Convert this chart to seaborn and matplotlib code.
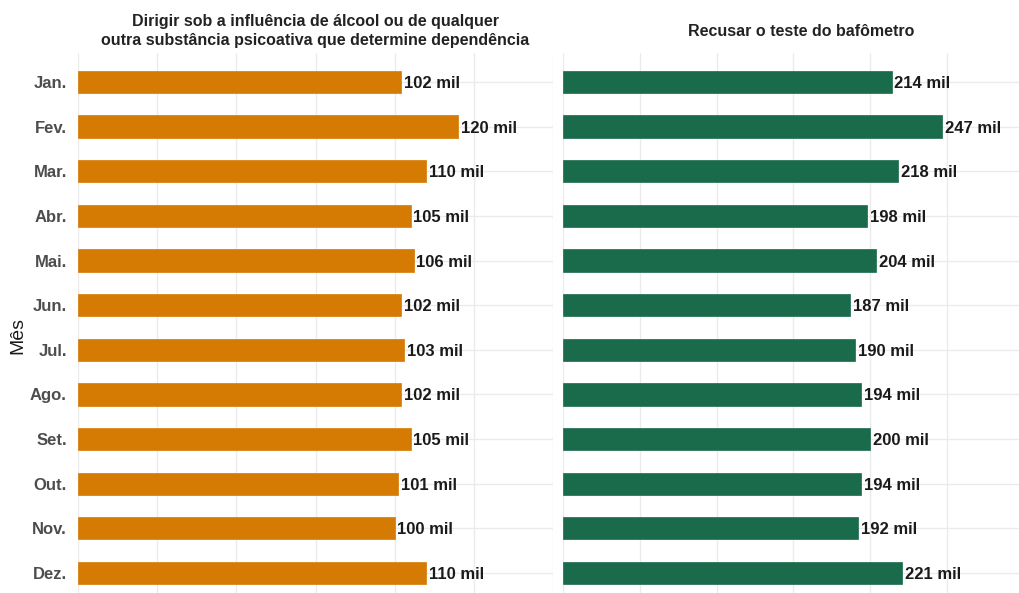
import matplotlib
matplotlib.use("Agg")
import matplotlib.pyplot as plt
import seaborn as sns
import pandas as pd

# Dados
meses = ["Jan.", "Fev.", "Mar.", "Abr.", "Mai.", "Jun.", "Jul.", "Ago.", "Set.", "Out.", "Nov.", "Dez."]
alcool = [102, 120, 110, 105, 106, 102, 103, 102, 105, 101, 100, 110]
bafometro = [214, 247, 218, 198, 204, 187, 190, 194, 200, 194, 192, 221]
titulos = ["Dirigir sob a influência de álcool ou de qualquer\noutra substância psicoativa que determine dependência",
           "Recusar o teste do bafômetro"]

sns.set_theme(style="whitegrid")
plt.rcParams["font.family"] = ["Liberation Sans", "DejaVu Sans"]

W, H = 1020, 593
fig = plt.figure(figsize=(W / 100, H / 100), dpi=100)

ax1 = fig.add_axes([78 / W, 0, (553 - 78) / W, (H - 53) / H])
ax2 = fig.add_axes([563 / W, 0, (1039 - 563) / W, (H - 53) / H])

paineis = [
    (ax1, alcool, "#D57A03", 150, 25),
    (ax2, bafometro, "#1A6B4C", 310, 50),
]

for i, (ax, vals, cor, xmax, passo) in enumerate(paineis):
    df = pd.DataFrame({"mes": meses, "valor": vals})
    sns.barplot(data=df, x="valor", y="mes", ax=ax, color=cor, width=0.5,
                saturation=1, edgecolor=cor, linewidth=0.5, zorder=2)
    rotulos = ax.bar_label(ax.containers[0], labels=[f"{v} mil" for v in vals], padding=2,
                           fontsize=12, fontweight="bold", color="#1a1a1a")
    for r in rotulos:
        r.set_verticalalignment("center_baseline")
    ax.set_xlim(0, xmax)
    ax.set_ylim(11.45, -0.65)
    ax.set_xticks(range(0, xmax + 1, passo))
    ax.set_xticklabels([])
    ax.set_xlabel("")
    ax.set_ylabel("")
    ax.grid(True, color="#EBEBEB", linewidth=1)
    ax.set_axisbelow(True)
    for s in ax.spines.values():
        s.set_visible(False)
    ax.tick_params(axis="both", length=0)
    ax.set_facecolor("white")
    if i == 0:
        ax.tick_params(axis="y", pad=8)
        for t in ax.get_yticklabels():
            t.set_fontsize(12)
            t.set_fontweight("bold")
            t.set_color("#4D4D4D")
            t.set_verticalalignment("center_baseline")
    else:
        ax.set_yticklabels([])

fig.text(315 / W, 1 - 31 / H, titulos[0], ha="center", va="center",
         fontsize=11.5, fontweight="bold", color="#222222", linespacing=1.35)
fig.text(801 / W, 1 - 32 / H, titulos[1], ha="center", va="center",
         fontsize=11.5, fontweight="bold", color="#222222")
fig.text(18 / W, 1 - 335 / H, "Mês", ha="center", va="center", rotation=90,
         fontsize=14, color="#1a1a1a")

fig.savefig("out.png", dpi=100, facecolor="white")
